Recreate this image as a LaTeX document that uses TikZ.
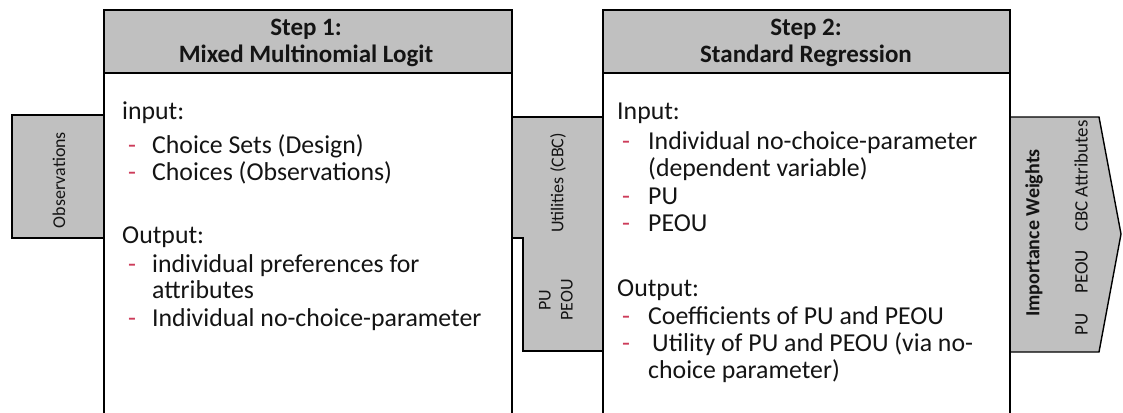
\documentclass[tikz,border=0pt]{standalone}
\usepackage{fontspec}
\setmainfont{Carlito}
\definecolor{hdrgray}{RGB}{192,192,192}
\definecolor{dashred}{RGB}{205,60,90}
\definecolor{txt}{RGB}{20,20,20}
\tikzset{
  boxline/.style={line width=1.6pt,black},
  grayshape/.style={line width=1.4pt,black,fill=hdrgray},
  hdrtext/.style={font=\fontsize{25}{27}\selectfont\bfseries,align=center,text=txt,inner sep=0pt},
  bodytext/.style={font=\fontsize{25.8}{27}\selectfont,anchor=west,text=txt,inner sep=0pt,text height=17pt,text depth=5pt},
  dashmark/.style={font=\fontsize{25.8}{27}\selectfont,anchor=west,text=dashred,inner sep=0pt,text height=17pt,text depth=5pt},
  sidetext/.style={font=\fontsize{18}{22}\selectfont,rotate=90,align=center,text=txt,inner sep=0pt},
}
\begin{document}
\begin{tikzpicture}[x=1pt,y=-1pt]
\useasboundingbox (0,0) rectangle (1123,412);
% side shapes
\draw[grayshape] (12,115) rectangle (104,238);
\node[sidetext] (obs) at (59,180) {Observations};
\draw[grayshape] (512,117) -- (603,117) -- (603,351) -- (523,351) -- (523,238) -- (512,238) -- cycle;
\node[sidetext] (util) at (558,183) {Utilities (CBC)};
\node[sidetext] (pu) at (556,300) {PU\\PEOU};
\draw[grayshape] (1010,117) -- (1099,117) -- (1121,234) -- (1099,352) -- (1010,352) -- cycle;
\node[sidetext,font=\fontsize{20}{22}\selectfont\bfseries] (iw) at (1034,233) {Importance Weights};
\node[sidetext,font=\fontsize{19}{22}\selectfont] (attr) at (1081,228) {PU\hspace{20pt}PEOU\hspace{18pt}CBC Attributes};
% step boxes
\fill[white] (104,10) rectangle (512,412);
\fill[white] (603,10) rectangle (1010,412);
\draw[boxline] (104,413) -- (104,10) -- (512,10) -- (512,413);
\draw[boxline,fill=hdrgray] (104,10) rectangle (512,73);
\draw[boxline] (603,413) -- (603,10) -- (1010,10) -- (1010,413);
\draw[boxline,fill=hdrgray] (603,10) rectangle (1010,73);
\draw[boxline] (512,238) -- (512,117);
\node[hdrtext] (h1) at (306,43) {Step 1:\\Mixed Multinomial Logit};
\node[hdrtext] (h2) at (806,43) {Step 2:\\Standard Regression};
% box 1 text
\node[bodytext] (a1) at (122,113) {input:};
\node[dashmark] (d1) at (128,147) {-};
\node[bodytext] (a2) at (152,147) {Choice Sets (Design)};
\node[dashmark] (d2) at (128,174) {-};
\node[bodytext] (a3) at (152,174) {Choices (Observations)};
\node[bodytext] (a4) at (122,237) {Output:};
\node[dashmark] (d3) at (128,266) {-};
\node[bodytext] (a5) at (152,266) {individual preferences for};
\node[bodytext] (a6) at (152,292) {attributes};
\node[dashmark] (d4) at (128,320) {-};
\node[bodytext] (a7) at (152,320) {Individual no-choice-parameter};
% box 2 text
\node[bodytext] (b1) at (617,113) {Input:};
\node[dashmark] (e1) at (622,143) {-};
\node[bodytext] (b2) at (648,143) {Individual no-choice-parameter};
\node[bodytext] (b3) at (648,170) {(dependent variable)};
\node[dashmark] (e2) at (622,198) {-};
\node[bodytext] (b4) at (648,198) {PU};
\node[dashmark] (e3) at (622,225) {-};
\node[bodytext] (b5) at (648,225) {PEOU};
\node[bodytext] (b6) at (617,290) {Output:};
\node[dashmark] (e4) at (622,318) {-};
\node[bodytext] (b7) at (648,318) {Coefficients of PU and PEOU};
\node[dashmark] (e5) at (622,345) {-};
\node[bodytext] (b8) at (652,345) {Utility of PU and PEOU (via no-};
\node[bodytext] (b9) at (648,372) {choice parameter)};
\end{tikzpicture}
\end{document}
